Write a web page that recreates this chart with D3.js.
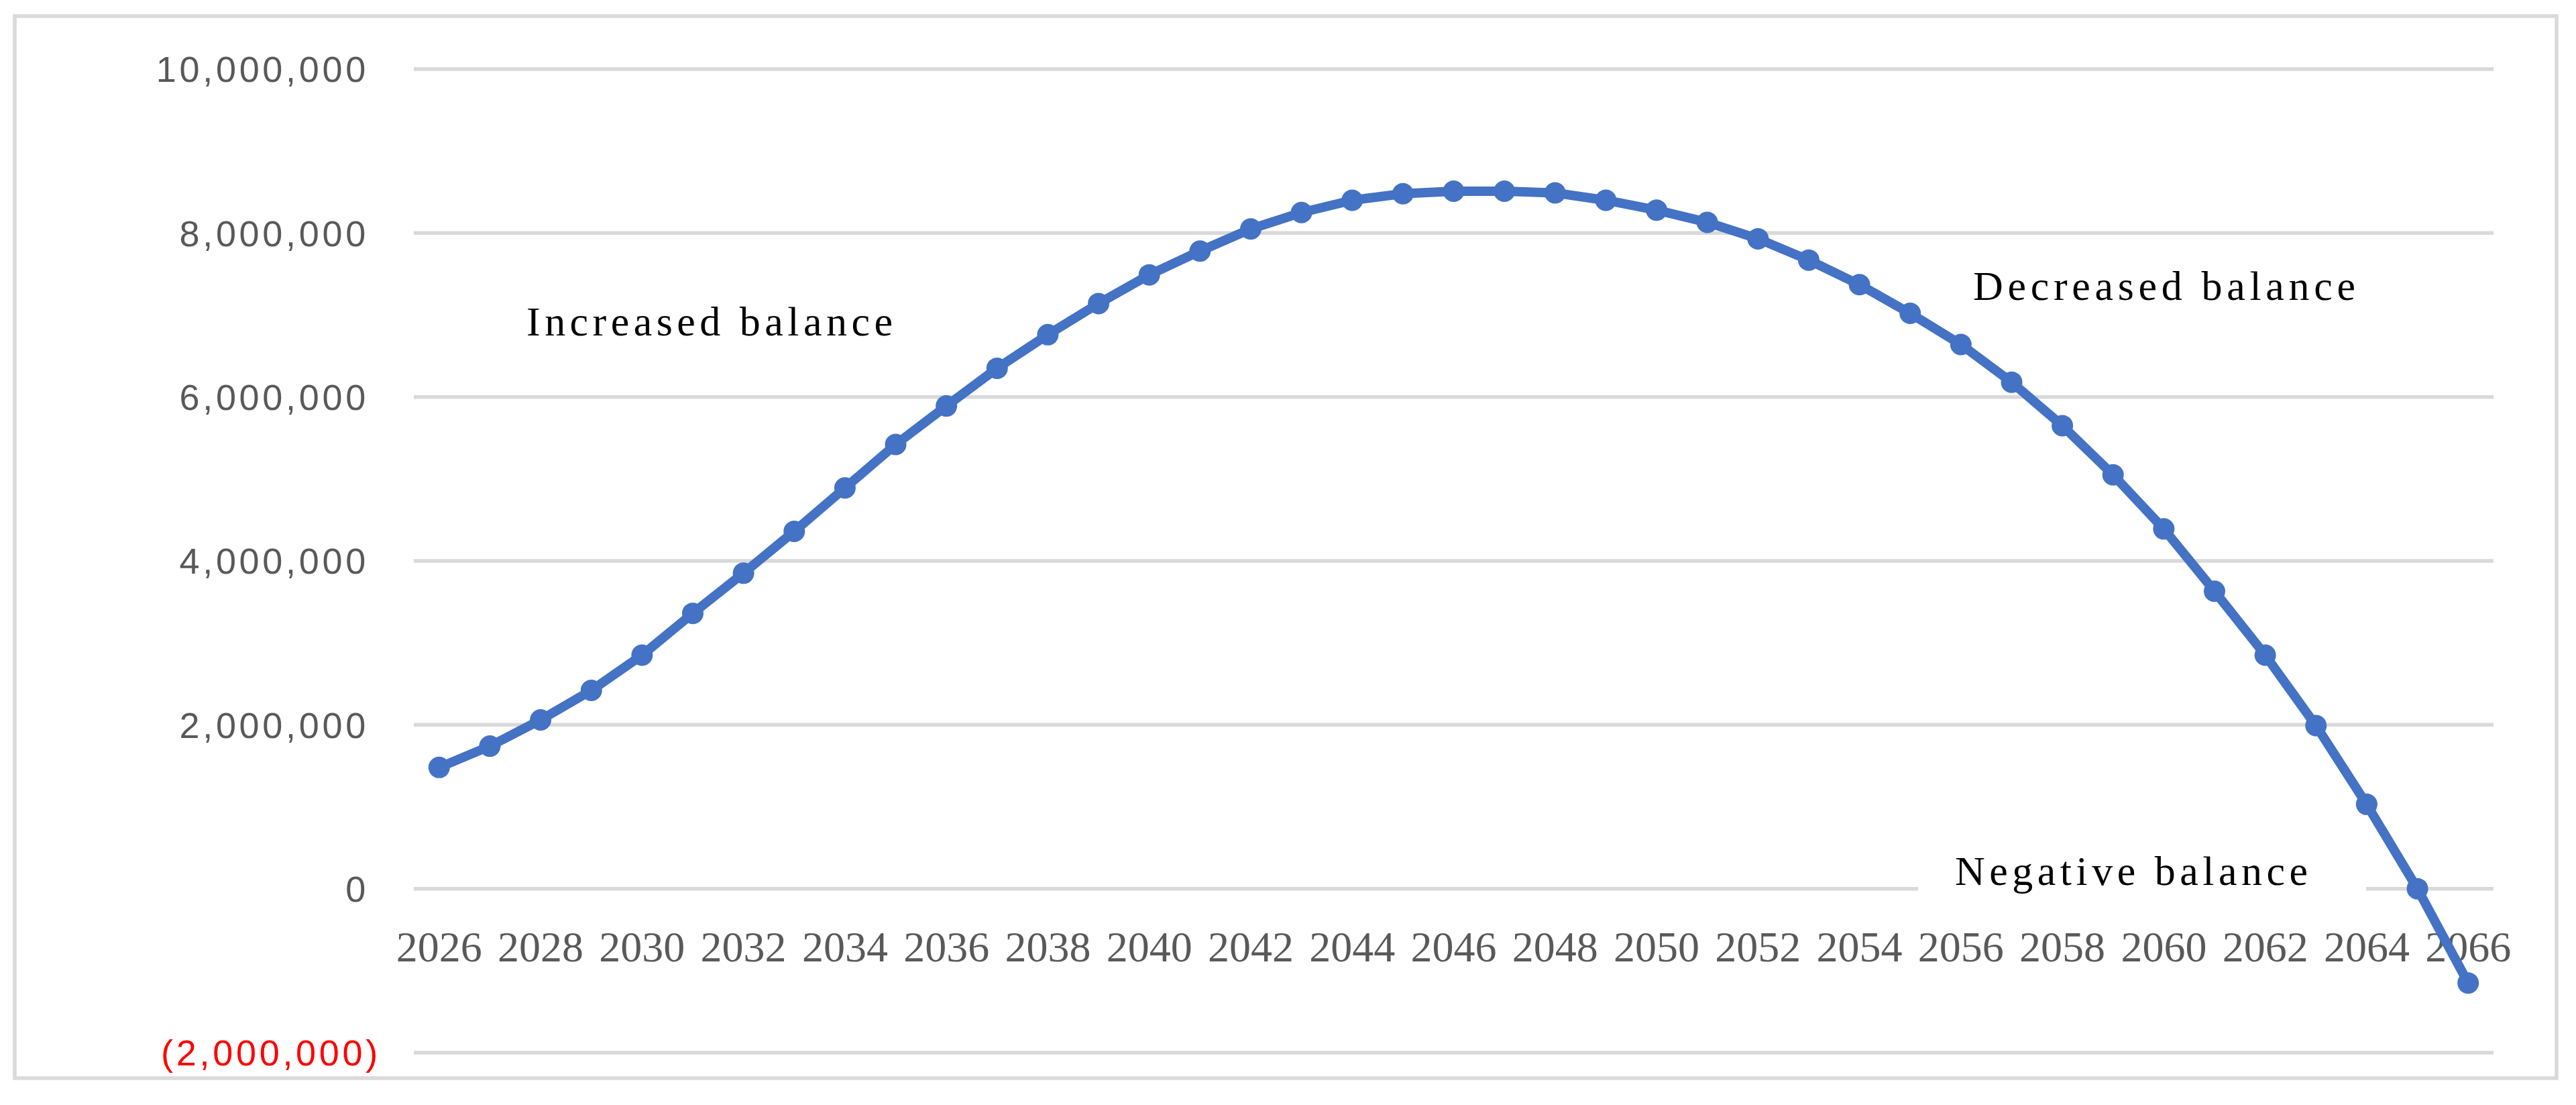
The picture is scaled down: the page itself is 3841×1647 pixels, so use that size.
<!DOCTYPE html>
<html>
<head>
<meta charset="utf-8">
<title>Balance projection</title>
<script src="https://cdn.jsdelivr.net/npm/d3@7"></script>
<style>
  body { margin: 0; background: #fff; }
  svg { display: block; }
</style>
</head>
<body>
<script>
// yearly balance
var years = [2026, 2027, 2028, 2029, 2030, 2031, 2032, 2033, 2034, 2035,
             2036, 2037, 2038, 2039, 2040, 2041, 2042, 2043, 2044, 2045,
             2046, 2047, 2048, 2049, 2050, 2051, 2052, 2053, 2054, 2055,
             2056, 2057, 2058, 2059, 2060, 2061, 2062, 2063, 2064, 2065, 2066];
var balance = [1480000, 1740000, 2060000, 2420000, 2850000, 3360000, 3850000, 4360000, 4890000, 5420000,
               5890000, 6350000, 6760000, 7140000, 7490000, 7780000, 8050000, 8250000, 8400000, 8480000,
               8510000, 8510000, 8490000, 8400000, 8280000, 8130000, 7930000, 7670000, 7370000, 7020000,
               6640000, 6180000, 5650000, 5050000, 4390000, 3630000, 2850000, 1990000, 1030000, 0, -1150000];
var yTicks = [-2000000, 0, 2000000, 4000000, 6000000, 8000000, 10000000];
var xTickYears = years.filter(function (d) { return d % 2 === 0; });
var notes = ["Increased balance", "Decreased balance", "Negative balance"];

var W = 3841, H = 1647;

var svg = d3.select("body").append("svg")
    .attr("width", W)
    .attr("height", H);

svg.append("rect")
    .attr("width", W).attr("height", H)
    .attr("fill", "#fff");

// chart area border
svg.append("rect")
    .attr("x", 22).attr("y", 24)
    .attr("width", 3812 - 22).attr("height", 1607 - 24)
    .attr("fill", "none")
    .attr("stroke", "#d9d9d9")
    .attr("stroke-width", 5.5);

var x = d3.scaleBand()
    .domain(years)
    .range([617, 3718])
    .padding(0);

var y = d3.scaleLinear()
    .domain([-2000000, 10000000])
    .range([1569, 103]);

var cx = function (d) { return x(d) + x.bandwidth() / 2; };

// gridlines
svg.append("g")
    .selectAll("line")
    .data(yTicks)
    .enter().append("line")
    .attr("x1", 617).attr("x2", 3718)
    .attr("y1", function (d) { return y(d); })
    .attr("y2", function (d) { return y(d); })
    .attr("stroke", "#d9d9d9")
    .attr("stroke-width", 5.5);

// y axis labels, accounting style: negatives in red parentheses
var fmt = d3.format(",");
svg.append("g")
    .selectAll("text")
    .data(yTicks)
    .enter().append("text")
    .attr("x", function (d) { return d < 0 ? 568 : 550; })
    .attr("y", function (d) { return y(d); })
    .attr("dy", "0.36em")
    .attr("text-anchor", "end")
    .attr("font-family", "'Liberation Sans', Arial, sans-serif")
    .attr("font-size", 54)
    .attr("letter-spacing", 4.7)
    .attr("fill", function (d) { return d < 0 ? "#ff0000" : "#595959"; })
    .text(function (d) { return d < 0 ? "(" + fmt(-d) + ")" : fmt(d); });

// x axis labels
svg.append("g")
    .selectAll("text")
    .data(xTickYears)
    .enter().append("text")
    .attr("x", cx)
    .attr("y", 1433)
    .attr("text-anchor", "middle")
    .attr("font-family", "'Liberation Serif', 'Times New Roman', serif")
    .attr("font-size", 64)
    .attr("fill", "#595959")
    .text(function (d) { return d; });

var pts = years.map(function (d, i) { return [d, balance[i]]; });

var line = d3.line()
    .x(function (d) { return cx(d[0]); })
    .y(function (d) { return y(d[1]); });

svg.append("path")
    .datum(pts)
    .attr("d", line)
    .attr("fill", "none")
    .attr("stroke", "#4472c4")
    .attr("stroke-width", 14)
    .attr("stroke-linejoin", "round");

svg.append("g")
    .selectAll("circle")
    .data(pts)
    .enter().append("circle")
    .attr("cx", function (d) { return cx(d[0]); })
    .attr("cy", function (d) { return y(d[1]); })
    .attr("r", 16)
    .attr("fill", "#4472c4");

// text boxes laid over the plot (white fill hides what is under them)
var boxes = [
    {text: notes[0], x: 785, y: 500, w: 546, box: null},
    {text: notes[1], x: 2942, y: 447, w: 570, box: [2890, 395, 680, 88]},
    {text: notes[2], x: 2915, y: 1319, w: 526, box: [2860, 1268, 668, 78]}
];

boxes.forEach(function (b) {
    if (b.box) {
        svg.append("rect")
            .attr("x", b.box[0]).attr("y", b.box[1])
            .attr("width", b.box[2]).attr("height", b.box[3])
            .attr("fill", "#fff");
    }
    svg.append("text")
        .attr("x", b.x)
        .attr("y", b.y)
        .attr("font-family", "'Liberation Serif', 'Times New Roman', serif")
        .attr("font-size", 62)
        .attr("textLength", b.w)
        .attr("lengthAdjust", "spacing")
        .attr("fill", "#000")
        .text(b.text);
});
</script>
</body>
</html>
